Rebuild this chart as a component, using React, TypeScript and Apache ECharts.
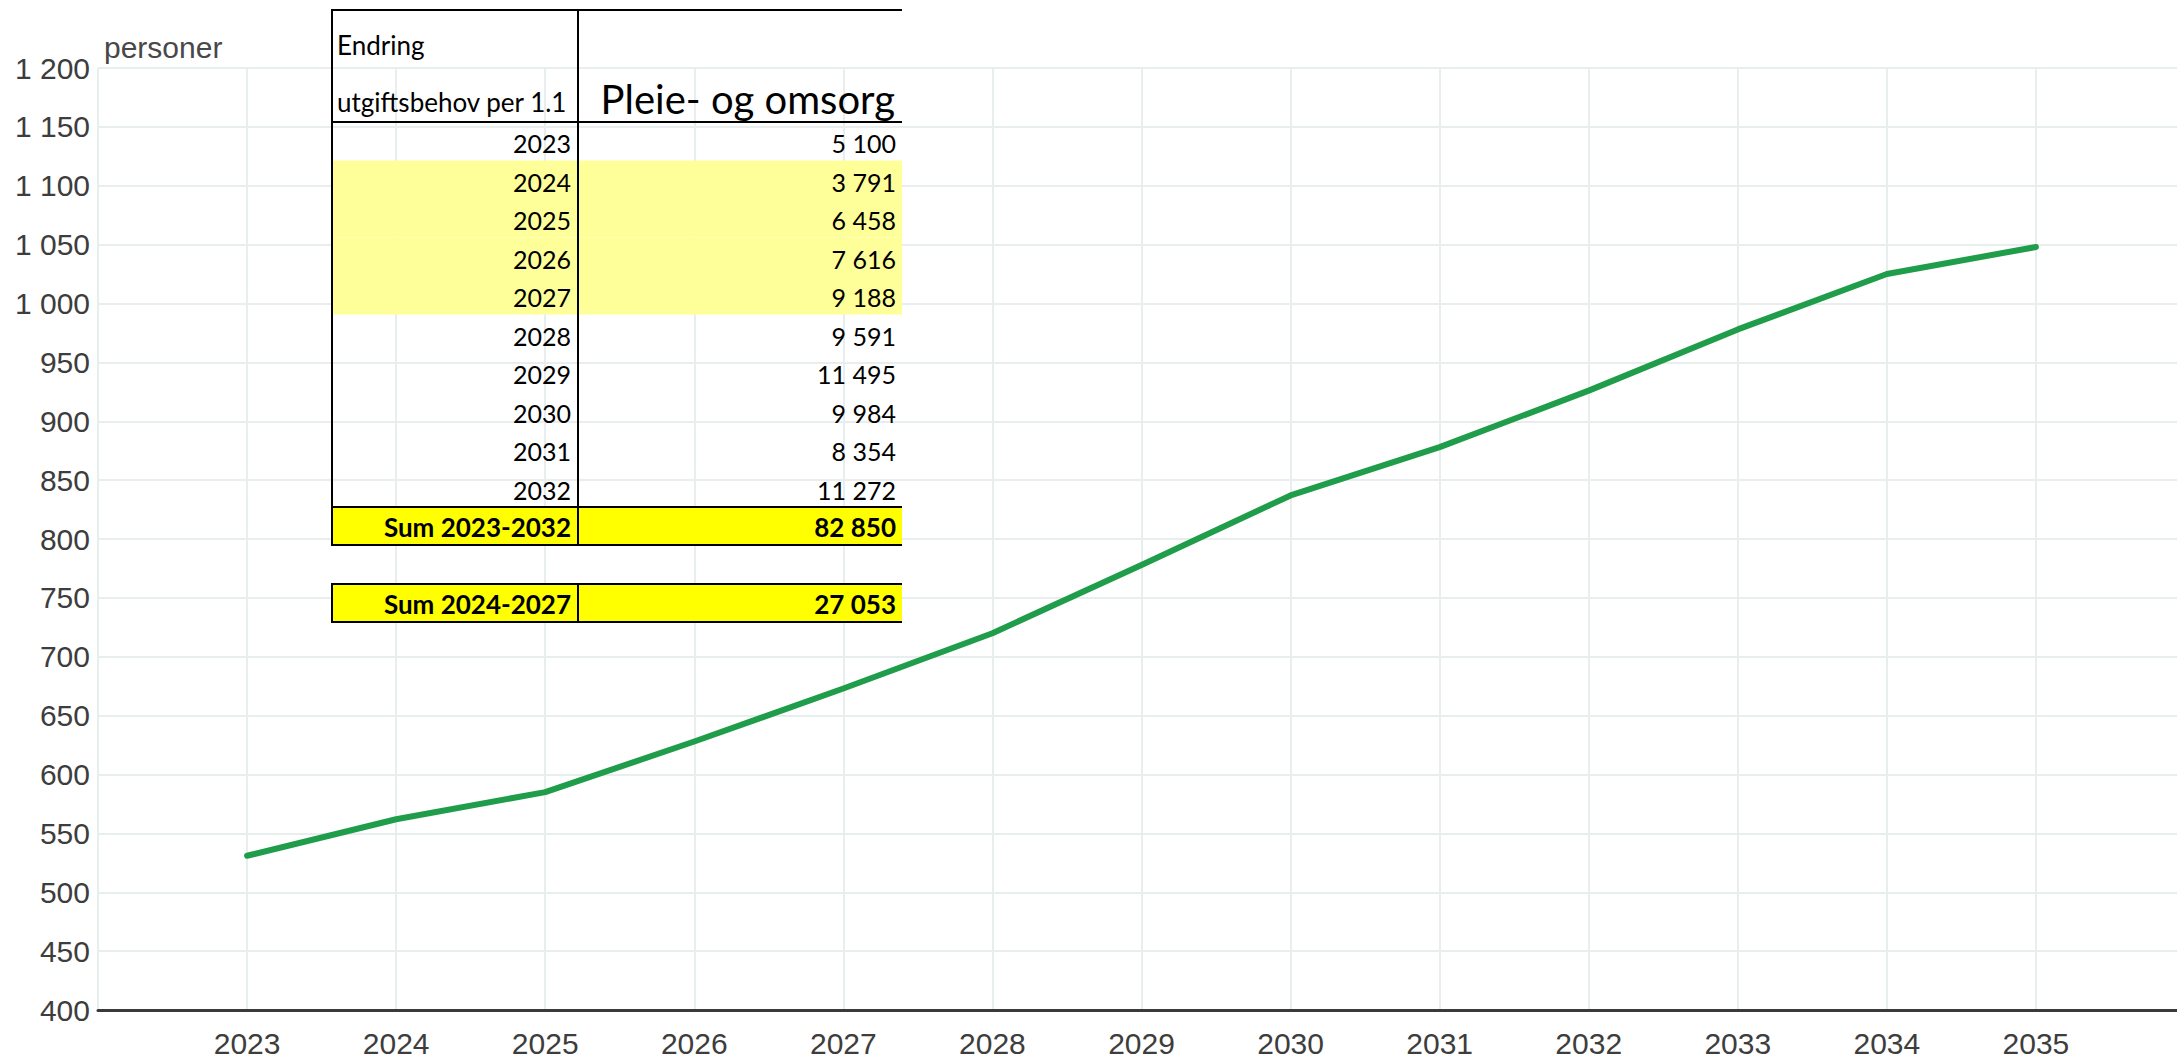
import React, { useEffect, useRef } from "react";
import * as echarts from "echarts";

// ---- chart data ----
const years = [2023, 2024, 2025, 2026, 2027, 2028, 2029, 2030, 2031, 2032, 2033, 2034, 2035];
const personer = [531, 562, 585, 628, 673, 720, 778, 837, 878, 926, 978, 1025, 1048];
const yMin = 400;
const yMax = 1200;
const yStep = 50;
const axisName = "personer";

// ---- table data ----
const tableHeader1 = "Endring";
const tableHeader2 = "utgiftsbehov per 1.1";
const tableColumnTitle = "Pleie- og omsorg";
const tableYears = ["2023", "2024", "2025", "2026", "2027", "2028", "2029", "2030", "2031", "2032"];
const tableValues = ["5 100", "3 791", "6 458", "7 616", "9 188", "9 591", "11 495", "9 984", "8 354", "11 272"];
const highlightedRows = [1, 2, 3, 4];
const sumLabels = ["Sum 2023-2032", "Sum 2024-2027"];
const sumValues = ["82 850", "27 053"];

const AXIS_FONT = "'Liberation Sans', Arial, sans-serif";
const TABLE_FONT = "Lato, 'Open Sans', sans-serif";

function fmtThousands(v: number): string {
  if (v >= 1000) {
    const k = Math.floor(v / 1000);
    const r = String(v % 1000).padStart(3, "0");
    return `${k} ${r}`;
  }
  return String(v);
}

function buildTable(): any[] {
  const L = 332, M = 578, R = 902;
  const top = 10, headBottom = 122, rowH = 38.5;
  const sumTop = headBottom + rowH * tableYears.length; // 507
  const sumBottom = sumTop + 38;
  const box2Top = 584, box2Bottom = 622;
  const els: any[] = [];
  highlightedRows.forEach((i) => {
    els.push({
      type: "rect",
      shape: { x: L, y: headBottom + rowH * i, width: R - L, height: rowH },
      style: { fill: "#FFFF99" },
      z: 10,
    });
  });
  els.push({ type: "rect", shape: { x: L, y: sumTop, width: R - L, height: sumBottom - sumTop }, style: { fill: "#FFFF00" }, z: 10 });
  els.push({ type: "rect", shape: { x: L, y: box2Top, width: R - L, height: box2Bottom - box2Top }, style: { fill: "#FFFF00" }, z: 10 });
  const line = (x1: number, y1: number, x2: number, y2: number, w = 2) => ({
    type: "line",
    shape: { x1, y1, x2, y2 },
    style: { stroke: "#000", lineWidth: w },
    z: 12,
  });
  els.push(line(L, top, R, top));
  els.push(line(L, headBottom, R, headBottom));
  els.push(line(L, sumTop, R, sumTop));
  els.push(line(L, sumBottom, R, sumBottom));
  els.push(line(L, top - 1, L, sumBottom + 1));
  els.push(line(M, top - 1, M, sumBottom + 1));
  els.push(line(L, box2Top, R, box2Top));
  els.push(line(L, box2Bottom, R, box2Bottom));
  els.push(line(L, box2Top - 1, L, box2Bottom + 1));
  els.push(line(M, box2Top - 1, M, box2Bottom + 1));
  const txt = (text: string, x: number, y: number, align: string, size: number, bold = false) => ({
    type: "text",
    x,
    y,
    z: 14,
    style: {
      text,
      fill: "#000",
      font: `${bold ? "bold " : ""}${size}px ${TABLE_FONT}`,
      textAlign: align,
      textVerticalAlign: "middle",
    },
  });
  els.push(txt(tableHeader1, 337, 45, "left", 26));
  els.push(txt(tableHeader2, 337, 102, "left", 26));
  els.push(txt(tableColumnTitle, 895, 99, "right", 40));
  tableYears.forEach((y, i) => {
    const cy = headBottom + rowH * (i + 0.5) + 2;
    els.push(txt(y, 571, cy, "right", 25));
    els.push(txt(tableValues[i], 896, cy, "right", 25));
  });
  els.push(txt(sumLabels[0], 571, (sumTop + sumBottom) / 2 + 1, "right", 26, true));
  els.push(txt(sumValues[0], 896, (sumTop + sumBottom) / 2 + 1, "right", 26, true));
  els.push(txt(sumLabels[1], 571, (box2Top + box2Bottom) / 2 + 1, "right", 26, true));
  els.push(txt(sumValues[1], 896, (box2Top + box2Bottom) / 2 + 1, "right", 26, true));
  return els;
}

export default function App() {
  const ref = useRef<HTMLDivElement>(null);
  useEffect(() => {
    if (!ref.current) return;
    const chart = echarts.init(ref.current, undefined, { renderer: "svg" });
    const option: any = {
      animation: false,
      backgroundColor: "#ffffff",
      title: {
        text: axisName,
        left: 99,
        top: 27,
        textStyle: { fontSize: 30, fontWeight: "normal", color: "#484848", fontFamily: AXIS_FONT },
      },
      grid: { left: 98, top: 68, width: 2087, height: 942, outerBoundsMode: "none", containLabel: false },
      xAxis: {
        type: "value",
        min: 2022,
        max: 2036,
        interval: 1,
        axisLine: { show: true, lineStyle: { color: "#3a3a3a", width: 3 } },
        axisTick: { show: false },
        axisLabel: {
          margin: 18,
          fontSize: 30,
          color: "#3d3d3d",
          fontFamily: AXIS_FONT,
          formatter: (v: number) => (years.includes(v) ? String(v) : ""),
        },
        splitLine: { show: true, lineStyle: { color: "#e8eded", width: 2 } },
      },
      yAxis: {
        type: "value",
        min: yMin,
        max: yMax,
        interval: yStep,
        axisLine: { show: false },
        axisTick: { show: false },
        axisLabel: {
          margin: 8,
          fontSize: 30,
          color: "#3d3d3d",
          fontFamily: AXIS_FONT,
          formatter: (v: number) => fmtThousands(v),
        },
        splitLine: { show: true, lineStyle: { color: "#e8eded", width: 2 } },
      },
      series: [
        {
          type: "line",
          data: years.map((y, i) => [y, personer[i]]),
          symbol: "none",
          lineStyle: { color: "#1f9d4a", width: 6, cap: "round", join: "round" },
          z: 5,
        },
      ],
      graphic: buildTable(),
    };
    chart.setOption(option);
    return () => chart.dispose();
  }, []);
  return (
    <div
      ref={ref}
      style={{ position: "fixed", left: 0, top: 0, width: 2177, height: 1058, background: "#fff" }}
    />
  );
}
